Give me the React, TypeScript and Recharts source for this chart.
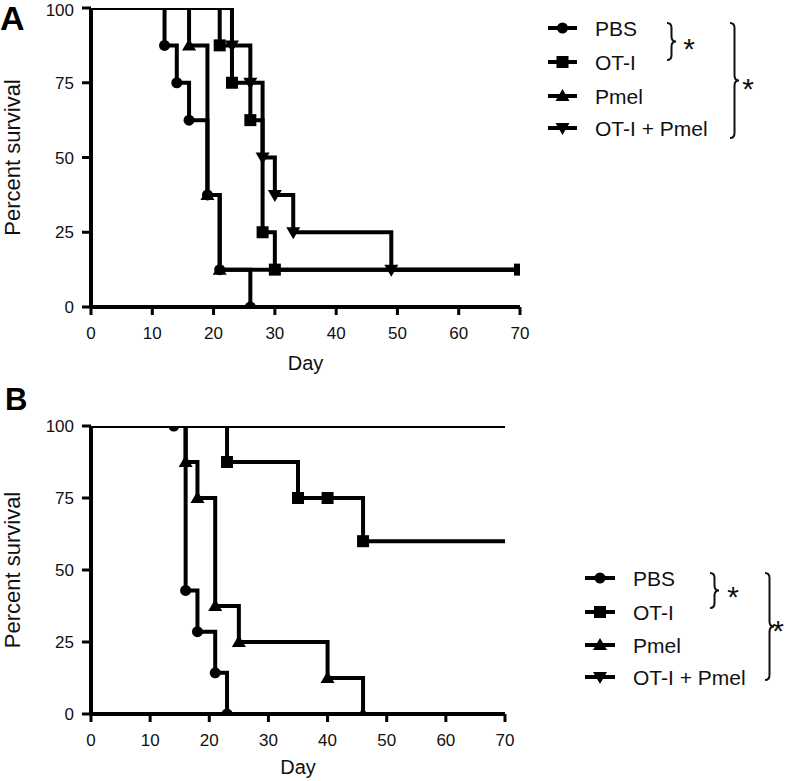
import React from "react";
import { ComposedChart, Line, Scatter, XAxis, YAxis, Legend } from "recharts";

const FONT = "'Liberation Sans', Arial, Helvetica, sans-serif";

// axis ticks
const dayTicks = [0, 10, 20, 30, 40, 50, 60, 70];
const survivalTicks = [0, 25, 50, 75, 100];

// groups
const groupNames = ["PBS", "OT-I", "Pmel", "OT-I + Pmel"];
const groupShapes = ["circle", "square", "triangle", "triangleDown"];

// Panel A – step curves (day of event, percent survival after event)
const aPbsDays = [0, 12, 14, 16, 19, 21, 26];
const aPbsSurv = [100, 87.5, 75, 62.5, 37.5, 12.5, 0];
const aPbsMarks = [12, 14, 16, 19, 21, 26];

const aOtiDays = [0, 21, 23, 26, 28, 30, 70];
const aOtiSurv = [100, 87.5, 75, 62.5, 25, 12.5, 12.5];
const aOtiMarks = [21, 23, 26, 28, 30, 70];

const aPmelDays = [0, 16, 19, 21, 70];
const aPmelSurv = [100, 87.5, 37.5, 12.5, 12.5];
const aPmelMarks = [16, 19, 21];

const aComboDays = [0, 23, 26, 28, 30, 33, 49, 70];
const aComboSurv = [100, 87.5, 75, 50, 37.5, 25, 12.5, 12.5];
const aComboMarks = [23, 26, 28, 30, 33, 49];

// Panel B
const bPbsDays = [0, 14, 16, 18, 21, 23];
const bPbsSurv = [100, 100, 42.9, 28.6, 14.3, 0];
const bPbsMarks = [14, 16, 18, 21, 23];

const bOtiDays = [0, 23, 35, 40, 46, 70];
const bOtiSurv = [100, 87.5, 75, 75, 60, 60];
const bOtiMarks = [23, 35, 40, 46];

const bPmelDays = [0, 16, 18, 21, 25, 40, 46];
const bPmelSurv = [100, 87.5, 75, 37.5, 25, 12.5, 0];
const bPmelMarks = [16, 18, 21, 25, 40, 46];

const bComboDays = [0, 70];
const bComboSurv = [100, 100];
const bComboMarks: number[] = [];

type Pt = { day: number; value: number };

function zip(days: number[], surv: number[]): Pt[] {
  return days.map((d, i) => ({ day: d, value: surv[i] }));
}
function marks(days: number[], surv: number[], m: number[]): Pt[] {
  return m.map((d) => {
    const i = days.lastIndexOf(d);
    return { day: d, value: surv[i] };
  });
}

function MarkerShape({ shape, cx, cy }: { shape: string; cx: number; cy: number }) {
  if (shape === "circle") return <circle cx={cx} cy={cy} r={5.5} fill="#000" />;
  if (shape === "square") return <rect x={cx - 6} y={cy - 6} width={12} height={12} fill="#000" />;
  if (shape === "triangle")
    return <polygon points={`${cx},${cy - 7} ${cx - 7},${cy + 5} ${cx + 7},${cy + 5}`} fill="#000" />;
  return <polygon points={`${cx - 7},${cy - 5} ${cx + 7},${cy - 5} ${cx},${cy + 7}`} fill="#000" />;
}

function bracePath(x: number, y0: number, y1: number, w: number) {
  const ym = (y0 + y1) / 2;
  const xm = x + w / 2;
  const r = Math.min(5, (y1 - y0) / 4);
  return `M ${x} ${y0} Q ${xm} ${y0} ${xm} ${y0 + r} L ${xm} ${ym - r} Q ${xm} ${ym} ${x + w} ${ym} Q ${xm} ${ym} ${xm} ${ym + r} L ${xm} ${y1 - r} Q ${xm} ${y1} ${x} ${y1}`;
}

type LegendCfg = {
  w: number;
  h: number;
  rows: number[];
  lineX0: number;
  lineX1: number;
  textX: number;
  small: { x: number; y0: number; y1: number; sx: number; sy: number };
  big: { x: number; y0: number; y1: number; sx: number; sy: number };
};

function LegendBox({ cfg }: { cfg: LegendCfg }) {
  const mid = (cfg.lineX0 + cfg.lineX1) / 2;
  return (
    <svg width={cfg.w} height={cfg.h} style={{ display: "block", overflow: "visible" }}>
      {groupNames.map((name, i) => (
        <g key={name}>
          <line x1={cfg.lineX0} x2={cfg.lineX1} y1={cfg.rows[i]} y2={cfg.rows[i]} stroke="#000" strokeWidth={4} />
          <MarkerShape shape={groupShapes[i]} cx={mid} cy={cfg.rows[i]} />
          <text x={cfg.textX} y={cfg.rows[i]} dominantBaseline="central" fontSize={21} fontFamily={FONT} fill="#111">
            {name}
          </text>
        </g>
      ))}
      <path d={bracePath(cfg.small.x, cfg.small.y0, cfg.small.y1, 9)} fill="none" stroke="#111" strokeWidth={2} />
      <text x={cfg.small.sx} y={cfg.small.sy} textAnchor="middle" dominantBaseline="central" fontSize={30} fontFamily={FONT} fill="#111">*</text>
      <path d={bracePath(cfg.big.x, cfg.big.y0, cfg.big.y1, 9)} fill="none" stroke="#111" strokeWidth={2} />
      <text x={cfg.big.sx} y={cfg.big.sy} textAnchor="middle" dominantBaseline="central" fontSize={30} fontFamily={FONT} fill="#111">*</text>
    </svg>
  );
}

const legendA: LegendCfg = {
  w: 250,
  h: 140,
  rows: [18, 52, 86, 118],
  lineX0: 8,
  lineX1: 37,
  textX: 55,
  small: { x: 127, y0: 13, y1: 50, sx: 149, sy: 38 },
  big: { x: 190, y0: 13, y1: 128, sx: 208, sy: 78 },
};

const legendB: LegendCfg = {
  w: 232,
  h: 140,
  rows: [18, 52, 85, 117],
  lineX0: 25,
  lineX1: 55,
  textX: 73,
  small: { x: 150, y0: 13, y1: 48, sx: 173, sy: 36 },
  big: { x: 205, y0: 13, y1: 120, sx: 218, sy: 70 },
};

function DayLabel(props: any) {
  const vb = props.viewBox || {};
  return (
    <text x={vb.x + vb.width / 2} y={vb.y + props.dy2} textAnchor="middle" fontSize={20} fontFamily={FONT} fill="#111">
      Day
    </text>
  );
}

function SurvLabel(props: any) {
  const vb = props.viewBox || {};
  const cx = 12.5;
  const cy = vb.y + vb.height / 2;
  return (
    <text
      x={cx}
      y={cy}
      transform={`rotate(-90, ${cx}, ${cy})`}
      textAnchor="middle"
      dominantBaseline="central"
      fontSize={22}
      fontFamily={FONT}
      fill="#111"
    >
      Percent survival
    </text>
  );
}

type Series = { data: Pt[]; marks: Pt[]; shape: string };

function Panel({
  series,
  height,
  margin,
  dayDy,
  legendCfg,
  legendPos,
}: {
  series: Series[];
  height: number;
  margin: { top: number; right: number; bottom: number; left: number };
  dayDy: number;
  legendCfg: LegendCfg;
  legendPos: { left: number; top: number };
}) {
  const tickStyle = { fill: "#111", fontSize: 17, fontFamily: FONT };
  return (
    <ComposedChart width={792} height={height} margin={margin}>
      <XAxis
        dataKey="day"
        type="number"
        domain={[0, 70]}
        ticks={dayTicks}
        height={55}
        tickSize={8}
        tickMargin={12}
        axisLine={{ stroke: "#000", strokeWidth: 4 }}
        tickLine={{ stroke: "#000", strokeWidth: 3 }}
        tick={tickStyle}
        allowDataOverflow
        label={<DayLabel dy2={dayDy} />}
      />
      <YAxis
        type="number"
        domain={[0, 100]}
        ticks={survivalTicks}
        width={91}
        tickSize={9}
        tickMargin={8}
        axisLine={{ stroke: "#000", strokeWidth: 4 }}
        tickLine={{ stroke: "#000", strokeWidth: 3 }}
        tick={tickStyle}
        allowDataOverflow
        label={<SurvLabel />}
      />
      {series.map((s, i) => (
        <Line
          key={"l" + i}
          data={s.data}
          dataKey="value"
          type="stepAfter"
          stroke="#000"
          strokeWidth={4}
          dot={false}
          activeDot={false}
          isAnimationActive={false}
          legendType="none"
        />
      ))}
      {series.map((s, i) => (
        <Scatter
          key={"s" + i}
          data={s.marks}
          dataKey="value"
          isAnimationActive={false}
          legendType="none"
          shape={(p: any) => <MarkerShape shape={s.shape} cx={p.cx} cy={p.cy} />}
        />
      ))}
      <Legend
        layout="vertical"
        align="center"
        verticalAlign="middle"
        wrapperStyle={{ left: legendPos.left, top: legendPos.top, width: legendCfg.w, height: legendCfg.h }}
        content={() => <LegendBox cfg={legendCfg} />}
      />
    </ComposedChart>
  );
}

const seriesA: Series[] = [
  { data: zip(aPbsDays, aPbsSurv), marks: marks(aPbsDays, aPbsSurv, aPbsMarks), shape: groupShapes[0] },
  { data: zip(aOtiDays, aOtiSurv), marks: marks(aOtiDays, aOtiSurv, aOtiMarks), shape: groupShapes[1] },
  { data: zip(aPmelDays, aPmelSurv), marks: marks(aPmelDays, aPmelSurv, aPmelMarks), shape: groupShapes[2] },
  { data: zip(aComboDays, aComboSurv), marks: marks(aComboDays, aComboSurv, aComboMarks), shape: groupShapes[3] },
];

const seriesB: Series[] = [
  { data: zip(bPbsDays, bPbsSurv), marks: marks(bPbsDays, bPbsSurv, bPbsMarks), shape: groupShapes[0] },
  { data: zip(bOtiDays, bOtiSurv), marks: marks(bOtiDays, bOtiSurv, bOtiMarks), shape: groupShapes[1] },
  { data: zip(bPmelDays, bPmelSurv), marks: marks(bPmelDays, bPmelSurv, bPmelMarks), shape: groupShapes[2] },
  { data: zip(bComboDays, bComboSurv), marks: marks(bComboDays, bComboSurv, bComboMarks), shape: groupShapes[3] },
];

export default function App() {
  return (
    <div style={{ position: "absolute", left: 0, top: 0, width: 792, height: 781, background: "#fff", fontFamily: FONT }}>
      <div style={{ position: "absolute", left: 0, top: 370 }}>
        <Panel
          series={seriesB}
          height={411}
          margin={{ top: 56, right: 287, bottom: 12, left: 0 }}
          dayDy={60}
          legendCfg={legendB}
          legendPos={{ left: 560, top: 190 }}
        />
      </div>
      <div style={{ position: "absolute", left: 0, top: 0 }}>
        <Panel
          series={seriesA}
          height={382}
          margin={{ top: 8, right: 272, bottom: 20, left: 0 }}
          dayDy={63}
          legendCfg={legendA}
          legendPos={{ left: 540, top: 10 }}
        />
      </div>
      <svg width={60} height={420} style={{ position: "absolute", left: 0, top: 0, pointerEvents: "none" }}>
        <text x={0} y={30} fontSize={34} fontWeight="bold" fontFamily={FONT} fill="#000">A</text>
        <text x={5} y={410} fontSize={31} fontWeight="bold" fontFamily={FONT} fill="#000">B</text>
      </svg>
    </div>
  );
}
